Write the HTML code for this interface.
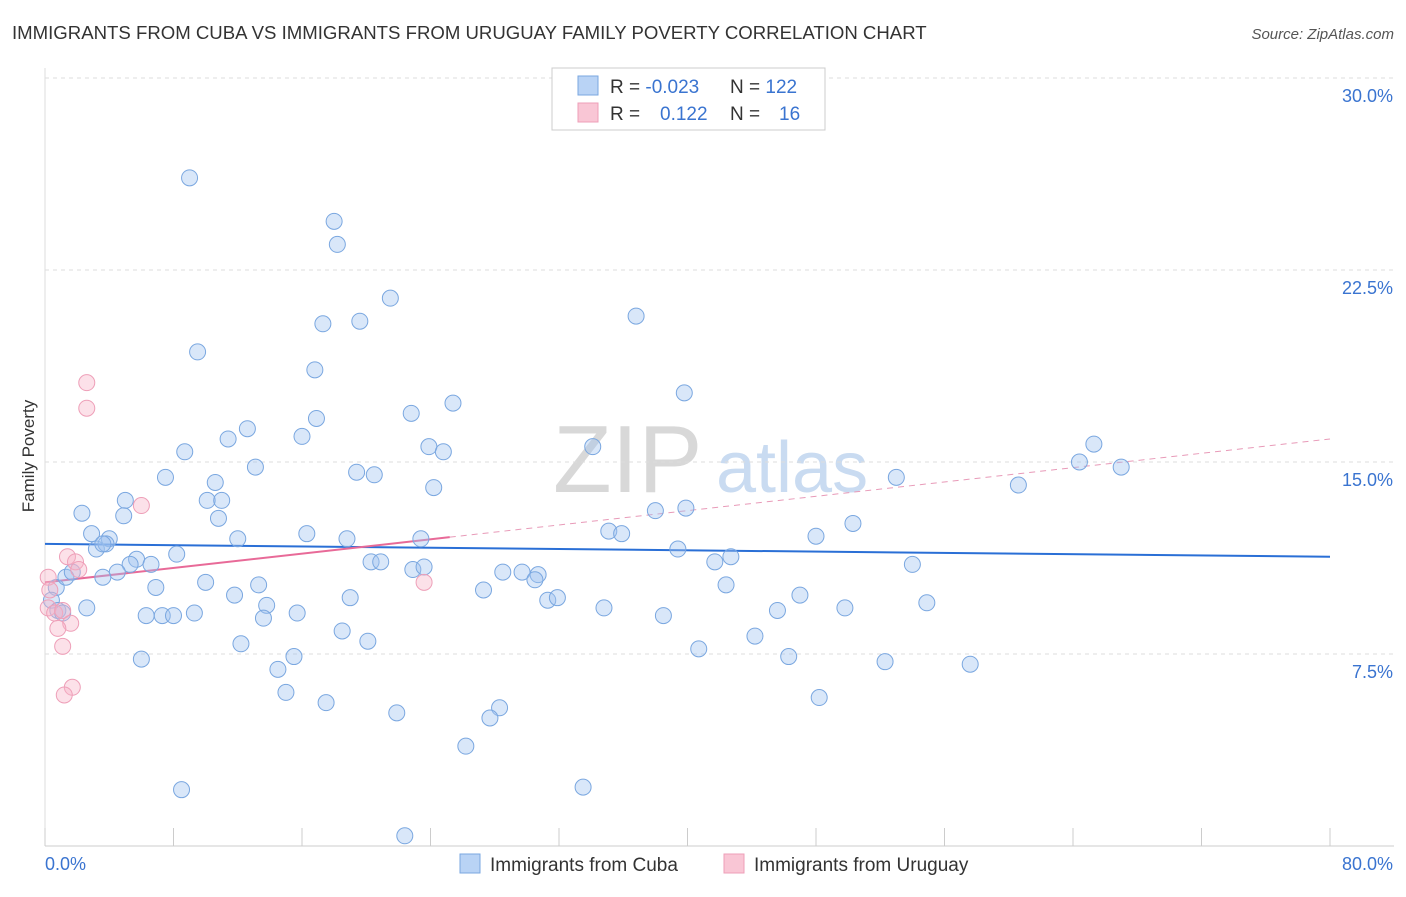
<!DOCTYPE html>
<html><head><meta charset="utf-8"><style>
body{margin:0;background:#fff;font-family:"Liberation Sans",sans-serif;}
svg text{font-family:"Liberation Sans",sans-serif;}
</style></head><body>
<svg id="chart" width="1406" height="892" xmlns="http://www.w3.org/2000/svg">
<text x="12" y="39" font-size="18.6" fill="#333">IMMIGRANTS FROM CUBA VS IMMIGRANTS FROM URUGUAY FAMILY POVERTY CORRELATION CHART</text>
<text x="1394" y="39" font-size="15" fill="#555" text-anchor="end" font-style="italic">Source: ZipAtlas.com</text>
<text x="553" y="492" font-size="96" fill="#d8d8d8" font-family="Liberation Serif">ZIP</text>
<text x="716" y="492" font-size="72" fill="#c9dbf1">atlas</text>
<text transform="translate(34,456) rotate(-90)" font-size="17" fill="#333" text-anchor="middle">Family Poverty</text>
<g id="grid"></g><g id="axes"></g><g id="trends"></g><g id="points"></g>
<g>
<rect x="552" y="68" width="273" height="62" fill="#fff" stroke="#ccc"/>
<rect x="578" y="76" width="20" height="19" fill="#b9d3f5" stroke="#7aa7e0"/>
<rect x="578" y="103" width="20" height="19" fill="#f9c6d5" stroke="#ee9fb8"/>
<text x="610" y="93" font-size="19" fill="#333">R = <tspan fill="#3a74d0">-0.023</tspan><tspan x="730">N = </tspan><tspan fill="#3a74d0">122</tspan></text>
<text x="610" y="120" font-size="19" fill="#333">R = <tspan x="660" fill="#3a74d0">0.122</tspan><tspan x="730">N = </tspan><tspan x="779" fill="#3a74d0">16</tspan></text>
</g>
<g>
<rect x="460" y="854" width="20" height="19" fill="#b9d3f5" stroke="#7aa7e0"/>
<text x="490" y="871" font-size="19" fill="#333">Immigrants from Cuba</text></g>
<g>
<rect x="724" y="854" width="20" height="19" fill="#f9c6d5" stroke="#ee9fb8"/>
<text x="754" y="871" font-size="19" fill="#333">Immigrants from Uruguay</text></g>
</svg>
<script>
const cubaX=[9.0,18.0,18.2,21.5,17.3,19.6,36.8,9.5,16.8,39.8,25.4,22.8,16.9,12.6,11.4,16.0,34.1,23.9,24.8,8.7,65.3,64.4,67.0,13.1,19.4,20.5,7.5,10.6,53.0,60.6,24.2,5.0,10.1,11.0,2.3,4.9,10.8,38.0,39.9,50.3,35.1,35.9,2.9,16.3,23.4,12.0,18.8,4.0,3.2,3.8,39.4,48.0,8.2,5.7,5.3,6.6,20.3,20.9,41.7,42.7,54.0,4.5,3.6,22.9,23.6,28.5,29.7,30.7,30.5,10.0,13.3,27.3,6.9,42.4,11.8,19.0,31.3,31.9,47.0,13.8,2.6,15.7,34.8,45.6,49.8,54.9,6.3,7.3,8.0,9.3,13.6,38.5,18.5,20.1,44.2,12.2,40.7,15.5,6.0,46.3,52.3,57.6,14.5,15.0,17.5,28.3,21.9,27.7,48.2,26.2,8.5,33.5,22.4,0.7,0.4,0.8,1.1,1.3,1.7,3.6];
const cubaY=[26.1,24.4,23.5,21.4,20.4,20.5,20.7,19.3,18.6,17.7,17.3,16.9,16.7,16.3,15.9,16.0,15.6,15.6,15.4,15.4,15.7,15.0,14.8,14.8,14.6,14.5,14.4,14.2,14.4,14.1,14.0,13.5,13.5,13.5,13.0,12.9,12.8,13.1,13.2,12.6,12.3,12.2,12.2,12.2,12.0,12.0,12.0,12.0,11.6,11.8,11.6,12.1,11.4,11.2,11.0,11.0,11.1,11.1,11.1,11.3,11.0,10.7,10.5,10.8,10.9,10.7,10.7,10.6,10.4,10.3,10.2,10.0,10.1,10.2,9.8,9.7,9.6,9.7,9.8,9.4,9.3,9.1,9.3,9.2,9.3,9.5,9.0,9.0,9.0,9.1,8.9,9.0,8.4,8.0,8.2,7.9,7.7,7.4,7.3,7.4,7.2,7.1,6.9,6.0,5.6,5.4,5.2,5.0,5.8,3.9,2.2,2.3,0.4,10.1,9.6,9.2,9.1,10.5,10.7,11.8];
const uruX=[2.6,2.6,6.0,1.4,1.9,2.1,0.2,0.3,0.2,0.6,1.1,1.6,0.8,1.1,1.7,1.2,23.6];
const uruY=[18.1,17.1,13.3,11.3,11.1,10.8,10.5,10.0,9.3,9.1,9.2,8.7,8.5,7.8,6.2,5.9,10.3];
const cubaTrend=[11.8,11.3];
const uruTrend=[10.3,15.9];
const yTicks=[7.5,15.0,22.5,30.0];
const xTickLabels=["0.0%","80.0%"];
const NS="http://www.w3.org/2000/svg";
const X=v=>45+v/80*1285, Y=v=>846-v/7.5*192;
function mk(tag,attrs,parent){const e=document.createElementNS(NS,tag);for(const k in attrs)e.setAttribute(k,attrs[k]);parent.appendChild(e);return e;}
const grid=document.getElementById('grid'),axes=document.getElementById('axes'),trends=document.getElementById('trends'),pts=document.getElementById('points');
yTicks.forEach(t=>{
 const l=mk('line',{x1:45,x2:1394,y1:Y(t),y2:Y(t),stroke:'#ddd','stroke-dasharray':'4,4'},grid);
 
 
 const tx=mk('text',{x:1393,y:Y(t)+24,'font-size':18,fill:'#3a74d0','text-anchor':'end'},grid);
 tx.textContent=t.toFixed(1)+'%';
 
 
});
const ya=mk('line',{x1:45,x2:45,y1:68,y2:846,stroke:'#ddd'},axes);


const xa=mk('line',{x1:45,x2:1394,y1:846,y2:846,stroke:'#ccc'},axes);


for(let i=0;i<=10;i++){const tk=mk('line',{x1:X(i*8),x2:X(i*8),y1:828,y2:846,stroke:'#ccc'},axes);
 
 }
xTickLabels.forEach((s,i)=>{const tx=mk('text',{x:i?1393:45,y:870,'font-size':18,fill:'#3a74d0','text-anchor':i?'end':'start'},axes);tx.textContent=s;
 
 });
function dot(x,y,fill,stroke,name){const c=mk('circle',{cx:X(x),cy:Y(y),r:8,fill:fill,stroke:stroke,'stroke-width':1},pts);
 
 }
cubaX.forEach((x,i)=>dot(x,cubaY[i],'rgba(160,196,240,0.4)','#7aa7e0','cuba-point'));
uruX.forEach((x,i)=>dot(x,uruY[i],'rgba(248,180,200,0.4)','#ee9fb8','uruguay-point'));
const bt=mk('line',{x1:X(0),y1:Y(cubaTrend[0]),x2:X(80),y2:Y(cubaTrend[1]),stroke:'#2a6fd6','stroke-width':2},trends);


const um=25.2, uy=uruTrend[0]+(uruTrend[1]-uruTrend[0])*um/80;
const pt=mk('line',{x1:X(0),y1:Y(uruTrend[0]),x2:X(um),y2:Y(uy),stroke:'#e86a98','stroke-width':2},trends);


const pd=mk('line',{x1:X(um),y1:Y(uy),x2:X(80),y2:Y(uruTrend[1]),stroke:'#e89ab8','stroke-width':1,'stroke-dasharray':'6,5'},trends);


</script>
</body></html>
